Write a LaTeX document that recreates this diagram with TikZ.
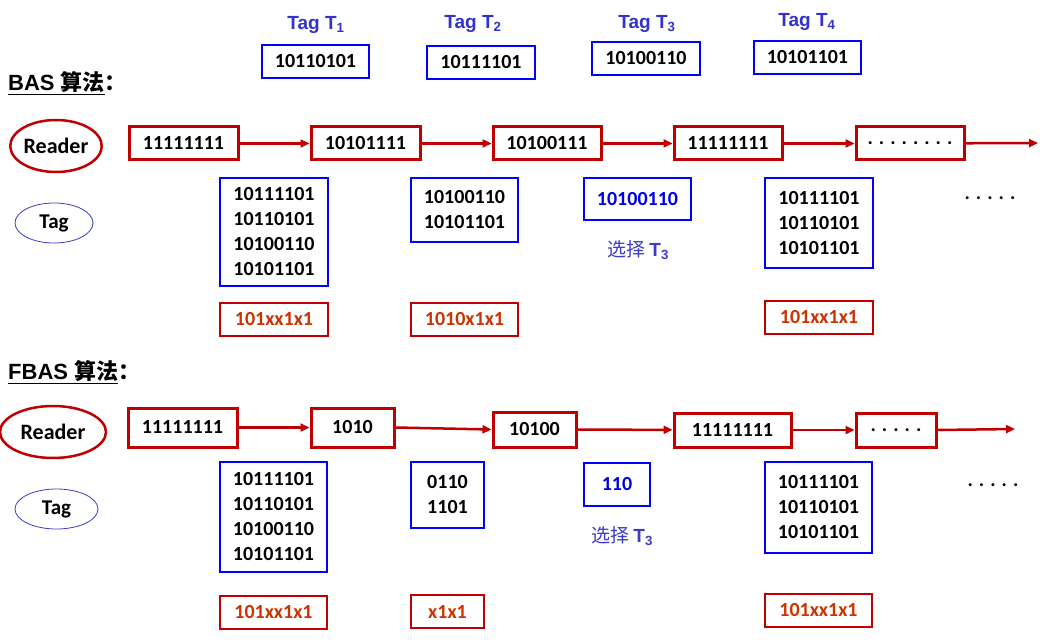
\documentclass[tikz,border=0pt]{standalone}
\usepackage{fontspec}
\setmainfont{Carlito}
\newfontfamily\arialf{Liberation Sans}
\newfontfamily\cjk{Noto Sans CJK SC}
\usetikzlibrary{shapes.geometric,arrows.meta}
\definecolor{myred}{RGB}{192,0,0}
\definecolor{txtred}{RGB}{204,51,0}
\definecolor{titleblue}{RGB}{51,51,204}
\definecolor{selblue}{RGB}{60,60,200}
\definecolor{boxblue}{RGB}{0,0,255}
\definecolor{numblue}{RGB}{0,0,230}
\tikzset{
  num/.style={font=\fontsize{20}{25}\selectfont\bfseries},
  rbox/.style={draw=myred, line width=3pt, num, inner sep=0pt},
  bbox/.style={draw=boxblue, line width=2pt, num, align=center, inner sep=0pt},
  lbox/.style={draw=myred, line width=2pt, num, text=txtred, inner sep=0pt},
  flow/.style={draw=myred, line width=2.5pt, -{Triangle[length=9pt,width=8pt]}},
  tagtitle/.style={text=titleblue, font=\arialf\fontsize{19}{22}\selectfont\bfseries},
  seltxt/.style={text=selblue, font=\fontsize{19}{22}\selectfont},
  heading/.style={anchor=west, inner sep=0pt},
  reader/.style={ellipse, draw=myred, line width=2.5pt, inner sep=0pt, font=\fontsize{22}{24}\selectfont\bfseries},
  tagell/.style={ellipse, draw=selblue, line width=0.8pt, inner sep=0pt, font=\fontsize{21}{24}\selectfont\bfseries},
  dots/.style={font=\fontsize{20}{24}\selectfont\bfseries}
}
\begin{document}
\begin{tikzpicture}[x=1pt,y=-1pt]
\useasboundingbox (0,0) rectangle (1040,644);
\fill[white] (0,0) rectangle (1040,644);

% Tag titles and top boxes
\node[tagtitle] (t1) at (316,25) {Tag T\textsubscript{1}};
\node[tagtitle] (t2) at (473,24) {Tag T\textsubscript{2}};
\node[tagtitle] (t3) at (647,24) {Tag T\textsubscript{3}};
\node[tagtitle] (t4) at (807,22) {Tag T\textsubscript{4}};
\node[bbox, minimum width=107pt, minimum height=33pt] (tb1) at (315.5,61.5) {10110101};
\node[bbox, minimum width=108pt, minimum height=33pt] (tb2) at (481,62.5) {10111101};
\node[bbox, minimum width=108pt, minimum height=33pt] (tb3) at (646,58.5) {10100110};
\node[bbox, minimum width=107pt, minimum height=33pt] (tb4) at (807.5,57.5) {10101101};

% BAS heading
\node[heading] (bash) at (8,83) {\underline{{\arialf\fontsize{22}{24}\selectfont\bfseries BAS }{\cjk\fontsize{22}{24}\selectfont\bfseries 算法}}{\cjk\fontsize{22}{24}\selectfont\bfseries ：}};

% BAS row
\node[reader, minimum width=88pt, minimum height=52pt] (r1) at (56,146) {Reader};
\node[tagell, minimum width=78pt, minimum height=40pt] (g1) at (54,223) {Tag};
\node[rbox, minimum width=109pt, minimum height=33pt] (a1) at (183.5,143.5) {11111111};
\node[rbox, minimum width=109pt, minimum height=33pt] (a2) at (365.5,143.5) {10101111};
\node[rbox, minimum width=108pt, minimum height=33pt] (a3) at (547,143.5) {10100111};
\node[rbox, minimum width=108pt, minimum height=33pt] (a4) at (728,143.5) {11111111};
\node[rbox, minimum width=108pt, minimum height=33pt] (a5) at (910,143.5) {. . . . . . . .};
\coordinate (aend) at (1038,143);
\draw[flow] (a1) -- (a2);
\draw[flow] (a2) -- (a3);
\draw[flow] (a3) -- (a4);
\draw[flow] (a4) -- (a5);
\draw[flow] (a5) -- (aend);

\node[bbox, minimum width=108pt, minimum height=108pt] (b1) at (274,232) {10111101\\10110101\\10100110\\10101101};
\node[bbox, minimum width=107pt, minimum height=64pt] (b2) at (464.5,210) {10100110\\10101101};
\node[bbox, minimum width=107pt, minimum height=42pt, text=numblue] (b3) at (637.5,199) {10100110};
\node[seltxt] (s1) at (638,250) {{\cjk 选择} {\arialf\bfseries T\textsubscript{3}}};
\node[bbox, minimum width=108pt, minimum height=90pt] (b4) at (819,223) {10111101\\10110101\\10101101};
\node[dots] (d1) at (990,198) {. . . . .};

\node[lbox, minimum width=108pt, minimum height=33pt] (c1) at (274,319.5) {101xx1x1};
\node[lbox, minimum width=107pt, minimum height=33pt] (c2) at (464.5,319.5) {1010x1x1};
\node[lbox, minimum width=108pt, minimum height=33pt] (c4) at (819,317.5) {101xx1x1};

% FBAS heading
\node[heading] (fbash) at (8,372) {\underline{{\arialf\fontsize{22}{24}\selectfont\bfseries FBAS }{\cjk\fontsize{22}{24}\selectfont\bfseries 算法}}{\cjk\fontsize{22}{24}\selectfont\bfseries ：}};

% FBAS row
\node[reader, minimum width=106pt, minimum height=52pt] (r2) at (53,432) {Reader};
\node[tagell, minimum width=83pt, minimum height=40pt] (g2) at (56.5,509) {Tag};
\node[rbox, minimum width=109pt, minimum height=39pt] (f1) at (182.5,427.5) {11111111};
\node[rbox, minimum width=83pt, minimum height=39pt] (f2) at (352.5,427.5) {1010};
\node[rbox, minimum width=83pt, minimum height=35pt] (f3) at (534.5,429.5) {10100};
\node[rbox, minimum width=117pt, minimum height=34pt] (f4) at (732.5,430) {11111111};
\node[rbox, minimum width=80pt, minimum height=34pt] (f5) at (896,430) {. . . . .};
\coordinate (fend) at (1015,429);
\draw[flow] (f1) -- (f2);
\draw[flow] (f2.east) -- (f3.west);
\draw[flow] (f3) -- (f4);
\draw[flow] (f4) -- (f5);
\draw[flow] (f5.east) -- (fend);

\node[bbox, minimum width=107pt, minimum height=110pt] (e1) at (273.5,517) {10111101\\10110101\\10100110\\10101101};
\node[bbox, minimum width=73pt, minimum height=66pt] (e2) at (447.5,495) {0110\\1101};
\node[bbox, minimum width=66pt, minimum height=43pt, text=numblue] (e3) at (617,484.5) {110};
\node[seltxt] (s2) at (622,536) {{\cjk 选择} {\arialf\bfseries T\textsubscript{3}}};
\node[bbox, minimum width=107pt, minimum height=91pt] (e4) at (818.5,507.5) {10111101\\10110101\\10101101};
\node[dots] (d2) at (993,485) {. . . . .};

\node[lbox, minimum width=107pt, minimum height=33pt] (h1) at (273.5,612.5) {101xx1x1};
\node[lbox, minimum width=73pt, minimum height=33pt] (h2) at (447.5,611.5) {x1x1};
\node[lbox, minimum width=107pt, minimum height=33pt] (h4) at (818.5,610.5) {101xx1x1};
\end{tikzpicture}
\end{document}
